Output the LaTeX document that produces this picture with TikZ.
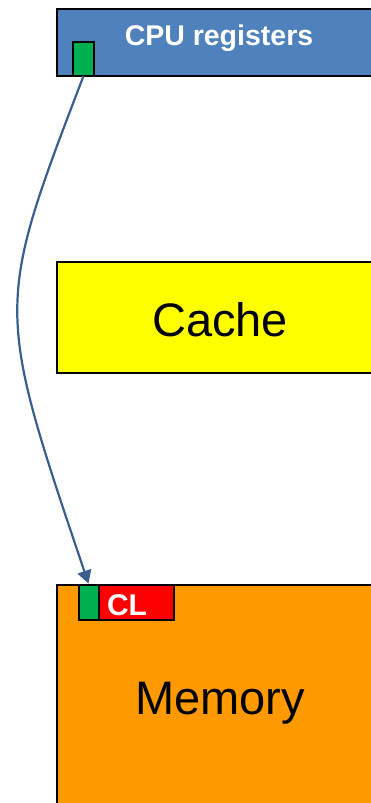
\documentclass[tikz,border=0pt]{standalone}
\usepackage{fontspec}
\setmainfont{Liberation Sans}
\usetikzlibrary{arrows.meta}
\definecolor{cpublue}{HTML}{4F81BD}
\definecolor{reggreen}{HTML}{00B050}
\definecolor{cacheyellow}{HTML}{FFFF00}
\definecolor{memorange}{HTML}{FF9900}
\definecolor{clred}{HTML}{FF0000}
\definecolor{arrowblue}{HTML}{3A5F8F}
\tikzset{
  box/.style={draw=black, line width=2pt, rectangle, anchor=north west, inner sep=0pt, outer sep=0pt},
  conn/.style={draw=arrowblue, line width=2.2pt, -{Triangle[length=13pt,width=14pt]}},
}
\begin{document}
\begin{tikzpicture}[x=1pt,y=-1pt]
\useasboundingbox (0,0) rectangle (370,803);
% CPU registers
\node[box, fill=cpublue, minimum width=340pt, minimum height=67pt] (cpu) at (57,9) {};
\node[anchor=base, text=white, font=\fontsize{28.5}{28.5}\selectfont\bfseries] (cputext) at (219,45) {CPU registers};
\node[box, fill=reggreen, minimum width=21pt, minimum height=34pt] (reg) at (73,42) {};
% Cache
\node[box, fill=cacheyellow, minimum width=340pt, minimum height=111pt] (cache) at (57,262) {};
\node[anchor=base, font=\fontsize{47}{47}\selectfont] (cachetext) at (220,336) {Cache};
% Memory
\node[box, fill=memorange, minimum width=340pt, minimum height=240pt] (mem) at (57,585) {};
\node[anchor=base, font=\fontsize{47}{47}\selectfont] (memtext) at (220,714) {Memory};
\node[box, fill=reggreen, minimum width=20pt, minimum height=35pt] (clg) at (79,585) {};
\node[box, fill=clred, minimum width=75pt, minimum height=35pt] (cl) at (99,585) {};
\node[anchor=base, text=white, font=\fontsize{30}{30}\selectfont\bfseries] (cltext) at (127,615) {CL};
% arrow
\draw[conn, shorten >=1.5pt] (reg.south) .. controls (-5,307) and (-5,307) .. (clg.north);
\end{tikzpicture}
\end{document}
